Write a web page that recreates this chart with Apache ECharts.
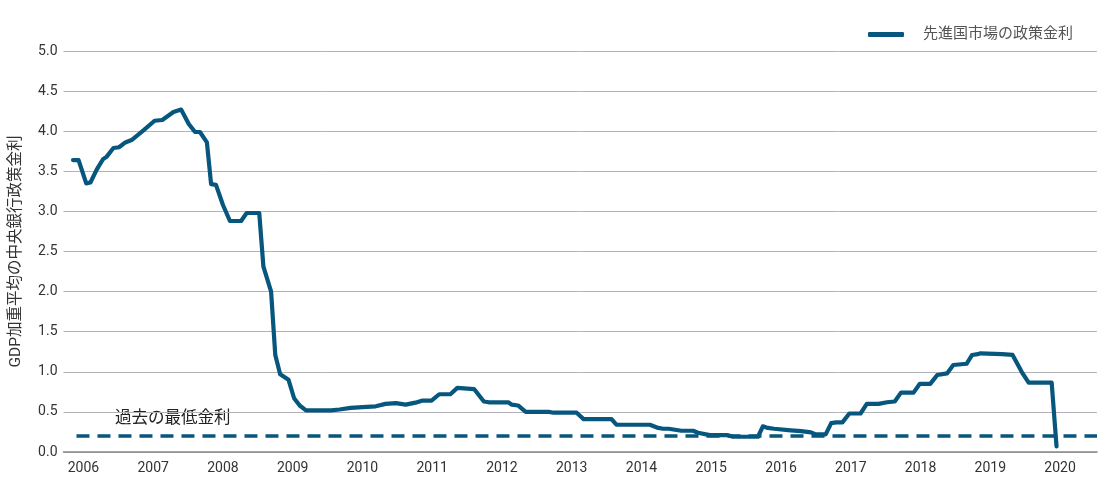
<!DOCTYPE html>
<html>
<head>
<meta charset="utf-8">
<script src="https://cdn.jsdelivr.net/npm/echarts@6/dist/echarts.min.js"></script>
<style>
  html, body { margin: 0; padding: 0; background: #fff; }
  #chart { width: 1100px; height: 482px; }
</style>
</head>
<body>
<div id="chart"></div>
<script>
const years = [
  2005.85, 2005.93, 2006.04, 2006.10, 2006.19, 2006.28, 2006.33, 2006.43, 2006.51, 2006.60,
  2006.69, 2006.86, 2007.02, 2007.13, 2007.29, 2007.40, 2007.51, 2007.60, 2007.67, 2007.77,
  2007.83, 2007.90, 2008.00, 2008.10, 2008.26, 2008.34, 2008.52, 2008.58, 2008.69, 2008.75,
  2008.82, 2008.94, 2009.02, 2009.10, 2009.19, 2009.55, 2009.67, 2009.83, 2010.00, 2010.19,
  2010.33, 2010.48, 2010.62, 2010.76, 2010.85, 2010.99, 2011.10, 2011.26, 2011.36, 2011.60,
  2011.74, 2011.81, 2012.09, 2012.14, 2012.23, 2012.34, 2012.67, 2012.74, 2013.07, 2013.17,
  2013.57, 2013.64, 2014.12, 2014.24, 2014.31, 2014.39, 2014.57, 2014.74, 2014.81, 2014.98,
  2015.24, 2015.31, 2015.67, 2015.74, 2015.81, 2015.90, 2016.14, 2016.29, 2016.43, 2016.50,
  2016.64, 2016.72, 2016.79, 2016.88, 2016.98, 2017.14, 2017.23, 2017.40, 2017.52, 2017.63,
  2017.72, 2017.90, 2017.99, 2018.14, 2018.24, 2018.38, 2018.47, 2018.66, 2018.74, 2018.82,
  2018.86, 2019.17, 2019.32, 2019.45, 2019.55, 2019.88, 2019.95
];
const rates = [
  3.64, 3.64, 3.35, 3.36, 3.52, 3.65, 3.68, 3.79, 3.80, 3.86,
  3.89, 4.01, 4.13, 4.14, 4.24, 4.27, 4.09, 3.99, 3.99, 3.86,
  3.34, 3.33, 3.08, 2.88, 2.88, 2.98, 2.98, 2.31, 2.00, 1.21,
  0.97, 0.90, 0.67, 0.58, 0.52, 0.52, 0.53, 0.55, 0.56, 0.57,
  0.60, 0.61, 0.59, 0.615, 0.64, 0.64, 0.72, 0.72, 0.80, 0.785,
  0.63, 0.62, 0.62, 0.59, 0.58, 0.50, 0.50, 0.49, 0.49, 0.41,
  0.41, 0.34, 0.34, 0.30, 0.29, 0.29, 0.265, 0.265, 0.24, 0.21,
  0.21, 0.19, 0.19, 0.32, 0.30, 0.29, 0.27, 0.26, 0.245, 0.22,
  0.22, 0.36, 0.37, 0.37, 0.48, 0.48, 0.60, 0.60, 0.62, 0.63,
  0.74, 0.74, 0.85, 0.85, 0.96, 0.98, 1.085, 1.10, 1.21, 1.22,
  1.23, 1.22, 1.21, 1.00, 0.865, 0.865, 0.07
];

// historical low level (dashed reference line)
const lowYears = [2005.90, 2020.53];
const lowRates = [0.2, 0.2];

const yearTicks = [2006, 2007, 2008, 2009, 2010, 2011, 2012, 2013, 2014, 2015, 2016, 2017, 2018, 2019, 2020];
const seriesName = "先進国市場の政策金利";
const yAxisTitle = "GDP加重平均の中央銀行政策金利";
const lowLabel = "過去の最低金利";

const BLUE = "#07567d";
const FONT = 'Roboto, "Noto Sans CJK JP", sans-serif';

const chart = echarts.init(document.getElementById("chart"));

chart.setOption({
  animation: false,
  grid: { left: 60, right: 3, top: 51, bottom: 30 },
  legend: {
    right: 22,
    top: 22,
    icon: "roundRect",
    itemWidth: 36,
    itemHeight: 5,
    textStyle: { color: "#555", fontSize: 15, fontFamily: FONT, padding: [0, 0, 0, 14] },
    data: [seriesName],
  },
  xAxis: {
    type: "value",
    min: 2005.714,
    max: 2020.53,
    axisLine: { show: true, lineStyle: { color: "#888", width: 1.5 } },
    axisTick: { show: false },
    splitLine: { show: false },
    axisLabel: {
      customValues: yearTicks,
      color: "#333",
      fontSize: 14,
      fontFamily: FONT,
      margin: 10,
      formatter: (v) => String(Math.round(v)),
    },
  },
  yAxis: {
    type: "value",
    min: 0,
    max: 5,
    interval: 0.5,
    name: yAxisTitle,
    nameLocation: "middle",
    nameGap: 40,
    nameTextStyle: { color: "#333", fontSize: 15.5, fontFamily: FONT },
    axisLine: { show: false },
    axisTick: { show: false },
    axisLabel: {
      color: "#333",
      fontSize: 14,
      fontFamily: FONT,
      margin: 6,
      formatter: (v) => v.toFixed(1),
    },
    splitLine: { lineStyle: { color: "#b2b2b8", width: 1 } },
  },
  graphic: [
    {
      type: "text",
      left: 115,
      top: 411,
      style: { text: lowLabel, fill: "#222", fontSize: 16.5, fontFamily: FONT },
    },
  ],
  series: [
    {
      name: "low",
      type: "line",
      data: lowYears.map((y, i) => [y, lowRates[i]]),
      symbol: "none",
      lineStyle: { color: BLUE, width: 3.5, type: [13, 8] },
      z: 1,
    },
    {
      name: seriesName,
      type: "line",
      data: years.map((y, i) => [y, rates[i]]),
      symbol: "none",
      itemStyle: { color: BLUE },
      lineStyle: { color: BLUE, width: 4.2, join: "round", cap: "round" },
      z: 2,
    },
  ],
});
</script>
</body>
</html>
